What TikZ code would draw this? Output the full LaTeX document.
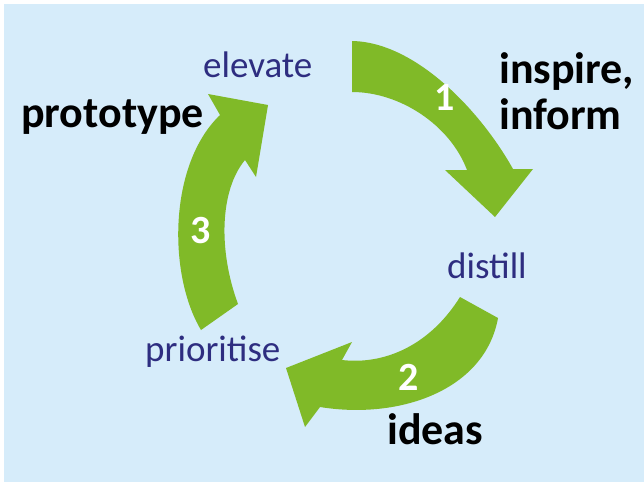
\documentclass[tikz,border=0pt]{standalone}
\usepackage{fontspec}
\setmainfont{Carlito}
\definecolor{bgblue}{RGB}{214,236,250}
\definecolor{arrgreen}{RGB}{128,186,40}
\definecolor{lblblue}{RGB}{46,45,128}
\begin{document}
\begin{tikzpicture}[x=1pt,y=-1pt,
  arrowshape/.style={fill=arrgreen,draw=none},
  steplabel/.style={inner sep=0pt,anchor=base west,text=lblblue,font=\fontsize{37}{37}\selectfont},
  actlabel/.style={inner sep=0pt,anchor=base west,text=black,font=\bfseries\fontsize{44}{44}\selectfont},
  numlabel/.style={inner sep=0pt,anchor=base,text=white,font=\bfseries\fontsize{40}{40}\selectfont}]
\useasboundingbox (0,0) rectangle (644,482);
\fill[white] (0,0) rectangle (644,482);
\fill[bgblue] (4,4) rectangle (644,482);
% arrow 1
\fill[arrowshape] (352,41) .. controls (415,42) and (480,110) .. (513,169)
  -- (533,169) -- (495,217) -- (445,170) -- (467,170)
  .. controls (450,125) and (400,92) .. (352,92) -- cycle;
% arrow 2
\fill[arrowshape] (498,318) .. controls (485,390) and (400,420) .. (320,407)
  -- (305,427) -- (286,368) -- (352,342) -- (342,360)
  .. controls (385,365) and (430,345) .. (460,297) -- cycle;
% arrow 3
\fill[arrowshape] (201,330) .. controls (168,275) and (168,165) .. (220,115)
  -- (208,94) -- (268,105) -- (256,177) -- (245,160)
  .. controls (220,190) and (218,250) .. (238,304) -- cycle;
% labels
\node[steplabel] (elevate) at (203,77) {elevate};
\node[steplabel] (distill) at (447,278) {distill};
\node[steplabel] (prioritise) at (145,361) {prioritise};
\node[actlabel] (inspire) at (499,83) {inspire,};
\node[actlabel] (inform) at (499,129) {inform};
\node[actlabel] (prototype) at (21,127) {prototype};
\node[actlabel] (ideas) at (387,444) {ideas};
\node[numlabel] (n1) at (445,110) {1};
\node[numlabel] (n2) at (409,390) {2};
\node[numlabel] (n3) at (201,243) {3};
\end{tikzpicture}
\end{document}
